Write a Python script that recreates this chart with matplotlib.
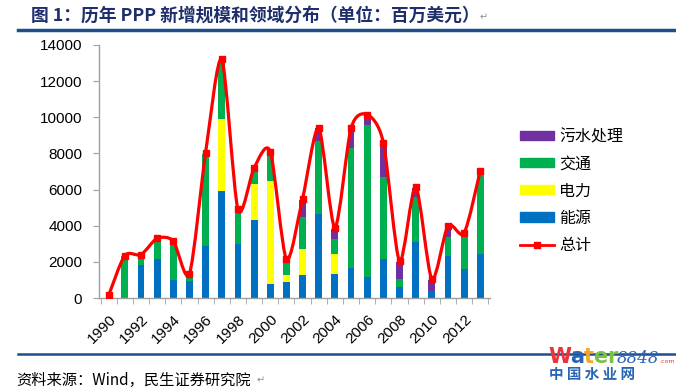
import numpy as np
import matplotlib.pyplot as plt
from matplotlib.path import Path
from matplotlib.patches import PathPatch, Patch
from matplotlib.lines import Line2D

plt.rcParams['font.family'] = ['Noto Sans CJK SC', 'DejaVu Sans']

years = list(range(1990, 2014))
energy = [0, 0, 1800, 2150, 1000, 950, 2850, 5900, 3000, 4300, 800, 900,
          1300, 4650, 1350, 1650, 1150, 2150, 600, 3100, 400, 2300, 1600, 2450]
power = [0, 0, 0, 0, 0, 0, 0, 4000, 0, 2000, 5650, 350,
         1400, 0, 1100, 0, 0, 0, 0, 0, 0, 0, 0, 0]
transport = [0, 2300, 450, 1100, 2000, 350, 5100, 3200, 1700, 800, 1550, 700,
             1800, 4050, 800, 6650, 8400, 4550, 450, 2500, 0, 1100, 1750, 4500]
water = [0, 0, 0, 0, 0, 0, 0, 0, 100, 100, 0, 150,
         950, 700, 550, 1050, 550, 1900, 950, 500, 600, 500, 150, 0]
total = [150, 2350, 2400, 3300, 3150, 1350, 8050, 13200, 4900, 7200, 8100, 2150,
         5500, 9400, 3900, 9400, 10150, 8600, 2050, 6150, 1050, 4000, 3600, 7050]
year_labels = [str(y) for y in range(1990, 2014, 2)]

c_energy = "#0070C0"
c_power = "#FFFF00"
c_transport = "#00B050"
c_water = "#7030A0"
c_total = "#FF0000"
navy = "#1F4E8C"

fig = plt.figure(figsize=(6.76, 3.91), dpi=100)
ax = fig.add_axes([99 / 676, 1 - 298 / 391, 391 / 676, 253 / 391])

x = np.arange(len(years))
w = 0.42
b1 = np.array(energy)
b2 = b1 + np.array(power)
b3 = b2 + np.array(transport)
ax.bar(x, energy, w, color=c_energy)
ax.bar(x, power, w, bottom=b1, color=c_power)
ax.bar(x, transport, w, bottom=b2, color=c_transport)
ax.bar(x, water, w, bottom=b3, color=c_water)

# smoothed total line, Bezier through the data points
pts = np.column_stack([x, total]).astype(float)
verts = [pts[0]]
codes = [Path.MOVETO]
n = len(pts)
k = 1 / 7.5
for i in range(n - 1):
    p0 = pts[max(i - 1, 0)]
    p1 = pts[i]
    p2 = pts[i + 1]
    p3 = pts[min(i + 2, n - 1)]
    verts += [p1 + (p2 - p0) * k, p2 - (p3 - p1) * k, p2]
    codes += [Path.CURVE4] * 3
ax.add_patch(PathPatch(Path(verts, codes), fill=False, edgecolor=c_total, lw=2.3, zorder=4))
ax.plot(x, total, ls="none", marker="s", ms=4.5, color=c_total, zorder=5)

ax.set_xlim(-0.6, len(years) - 0.4)
ax.set_ylim(0, 14000)
ax.set_yticks(range(0, 14001, 2000))
ax.tick_params(axis="y", labelsize=11, length=4, color="#A0A0A0", pad=8)
for lab in ax.get_yticklabels():
    lab.set_fontfamily("Liberation Sans")

ax.set_xticks(x[::2])
ax.set_xticklabels(year_labels, rotation=45, ha="right", rotation_mode="anchor",
                   fontsize=11, fontfamily="Liberation Sans")
ax.tick_params(axis="x", length=0, pad=10)
ax.set_xticks(np.arange(-0.5, len(years), 1), minor=True)
ax.tick_params(axis="x", which="minor", length=4, color="#A0A0A0", direction="out")

for s in ["top", "right"]:
    ax.spines[s].set_visible(False)
for s in ["left", "bottom"]:
    ax.spines[s].set_color("#A0A0A0")
    ax.spines[s].set_linewidth(1)

handles = [Patch(color=c_water), Patch(color=c_transport), Patch(color=c_power),
           Patch(color=c_energy),
           Line2D([0], [0], color=c_total, lw=2, marker="s", ms=4.5)]
labels = ["污水处理", "交通", "电力", "能源", "总计"]
fig.legend(handles, labels, loc="upper left", bbox_to_anchor=(520 / 676, 1 - 128 / 391),
           frameon=False, fontsize=11.5, handlelength=2.1, handleheight=0.5,
           labelspacing=0.64, handletextpad=0.35, borderpad=0, borderaxespad=0)

fig.text(31 / 676, 1 - 16 / 391, "图 1：历年 PPP 新增规模和领域分布（单位：百万美元）",
         fontsize=12.8, fontweight="bold", color="#1F2F6B", va="center", ha="left")
fig.text(480 / 676, 1 - 17 / 391, "↵", fontsize=7, color="#909090", va="center",
         family=["DejaVu Sans"])
fig.add_artist(Line2D([18 / 676, 1], [1 - 30 / 391] * 2, color=navy, lw=2.5))
fig.add_artist(Line2D([18 / 676, 1], [1 - 354 / 391] * 2, color=navy, lw=1.8))
fig.text(16 / 676, 1 - 380 / 391, "资料来源：Wind，民生证券研究院", fontsize=11,
         color="#000000", va="center", ha="left")
fig.text(257 / 676, 1 - 380 / 391, "↵", fontsize=7, color="#909090", va="center",
         family=["DejaVu Sans"])

# watermark: letters chained one after another
renderer = fig.canvas.get_renderer()
wm_parts = [("W", "#E8343A", 15, "bold", "normal", "DejaVu Sans"),
            ("a", "#2A64B4", 15, "bold", "normal", "DejaVu Sans"),
            ("t", "#F5A623", 15, "bold", "normal", "DejaVu Sans"),
            ("e", "#7CC142", 15, "bold", "normal", "DejaVu Sans"),
            ("r", "#7CC142", 15, "bold", "normal", "DejaVu Sans"),
            ("8848", "#2A64B4", 12, "normal", "italic", "DejaVu Serif"),
            (".com", "#E8343A", 4.5, "normal", "normal", "DejaVu Sans")]
xpos = 548
for txt, col, size, weight, style, fam in wm_parts:
    t = fig.text(xpos / 676, 1 - 363 / 391, txt, fontsize=size, fontweight=weight,
                 style=style, color=col, va="baseline", ha="left", family=[fam])
    xpos += t.get_window_extent(renderer).width - 0.5
fig.text(549 / 676, 1 - 374 / 391, "中 国 水 业 网", fontsize=10.5, fontweight="bold",
         color="#2A64B4", va="center", ha="left")

fig.savefig("out.png", dpi=100)
